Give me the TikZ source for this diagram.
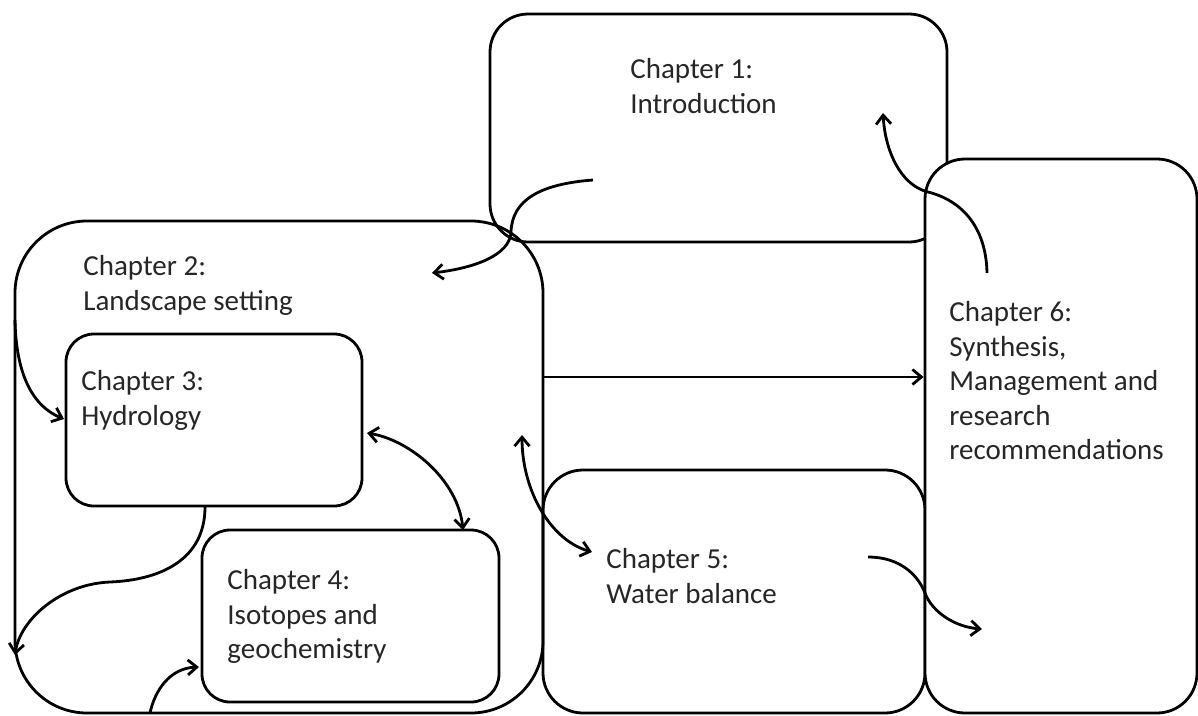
\documentclass[tikz,border=0pt]{standalone}
\usepackage{fontspec}
\setmainfont{Carlito}
\usetikzlibrary{arrows.meta}

\begin{document}
\begin{tikzpicture}[x=1pt, y=-1pt, line width=2.8pt, >={Straight Barb[length=9pt,width=15pt]}]
      \tikzstyle{chapter box} = [draw=black, rectangle, inner sep=0pt, rounded corners=40pt]
      \tikzstyle{chapter text} = [anchor=north west, inner sep=0pt, align=left, text=black!85, font=\fontsize{29}{34.5}\selectfont]
      \tikzstyle{link} = [draw=black, ->]
      \useasboundingbox (0,0) rectangle (1198,715);

      %boxes
      \node[chapter box, minimum width=528pt, minimum height=492pt, rounded corners=72pt] (ch2) at (279,467) {};
      \node[chapter box, minimum width=296pt, minimum height=172pt, rounded corners=28pt] (ch3) at (214,420) {};
      \node[chapter box, minimum width=297pt, minimum height=172pt, rounded corners=28pt] (ch4) at (350.5,616) {};
      \node[chapter box, minimum width=382pt, minimum height=243pt] (ch5) at (734,591.5) {};
      \node[chapter box, minimum width=457pt, minimum height=228pt, rounded corners=38pt] (ch1) at (718.5,128) {};
      \node[chapter box, minimum width=272pt, minimum height=554pt, fill=white] (ch6) at (1061,436) {};

      %labels
      \node[chapter text] (ch1txt) at (629,57)  {Chapter 1:\\Introduction};
      \node[chapter text] (ch2txt) at (82,254)  {Chapter 2:\\Landscape setting};
      \node[chapter text] (ch3txt) at (80,369)  {Chapter 3:\\Hydrology};
      \node[chapter text] (ch4txt) at (226,568) {Chapter 4:\\Isotopes and\\geochemistry};
      \node[chapter text] (ch5txt) at (605,547) {Chapter 5:\\Water balance};
      \node[chapter text] (ch6txt) at (948,300) {Chapter 6:\\Synthesis,\\Management and\\research\\recommendations};

      %free ends of the links
      \coordinate (ch1out) at (593,180);
      \coordinate (ch2in)  at (432,273);
      \coordinate (ch2src) at (15,320);
      \coordinate (ch3in)  at (64,419);
      \coordinate (ch3out) at (205,507);
      \coordinate (ch2low) at (15,655);
      \coordinate (ch4src) at (150,713);
      \coordinate (ch4in)  at (199,667);
      \coordinate (ch3r)   at (367,433);
      \coordinate (ch4top) at (463,530);
      \coordinate (ch2r)   at (522,435);
      \coordinate (ch5in)  at (592,552);
      \coordinate (ch6out) at (987,273);
      \coordinate (ch1in)  at (883,113);
      \coordinate (ch5out) at (868,557);
      \coordinate (ch6in)  at (982,629);

      %links
      \draw [link] (ch1out) .. controls (540,184) and (512,200) .. (511,232)
                            .. controls (510,255) and (475,268) .. (ch2in);
      \draw [link] (ch2src) .. controls (16,370) and (30,405) .. (ch3in);
      \draw [link] (ch3out) .. controls (205,560) and (160,580) .. (110,582)
                            .. controls (60,584) and (20,620) .. (ch2low);
      \draw [link] (ch4src) .. controls (155,690) and (170,668) .. (ch4in);
      \draw [link, <->] (ch3r) .. controls (410,440) and (458,480) .. (ch4top);
      \draw [link, <->] (ch2r) .. controls (522,490) and (550,540) .. (ch5in);
      \draw [link] (ch2.east |- 0,377) -- (ch6.west |- 0,377);
      \draw [link] (ch6out) .. controls (986,225) and (960,200) .. (928,192)
                            .. controls (900,185) and (885,150) .. (ch1in);
      \draw [link] (ch5out) .. controls (900,557) and (918,575) .. (925,593)
                            .. controls (932,612) and (955,627) .. (ch6in);
\end{tikzpicture}
\end{document}
